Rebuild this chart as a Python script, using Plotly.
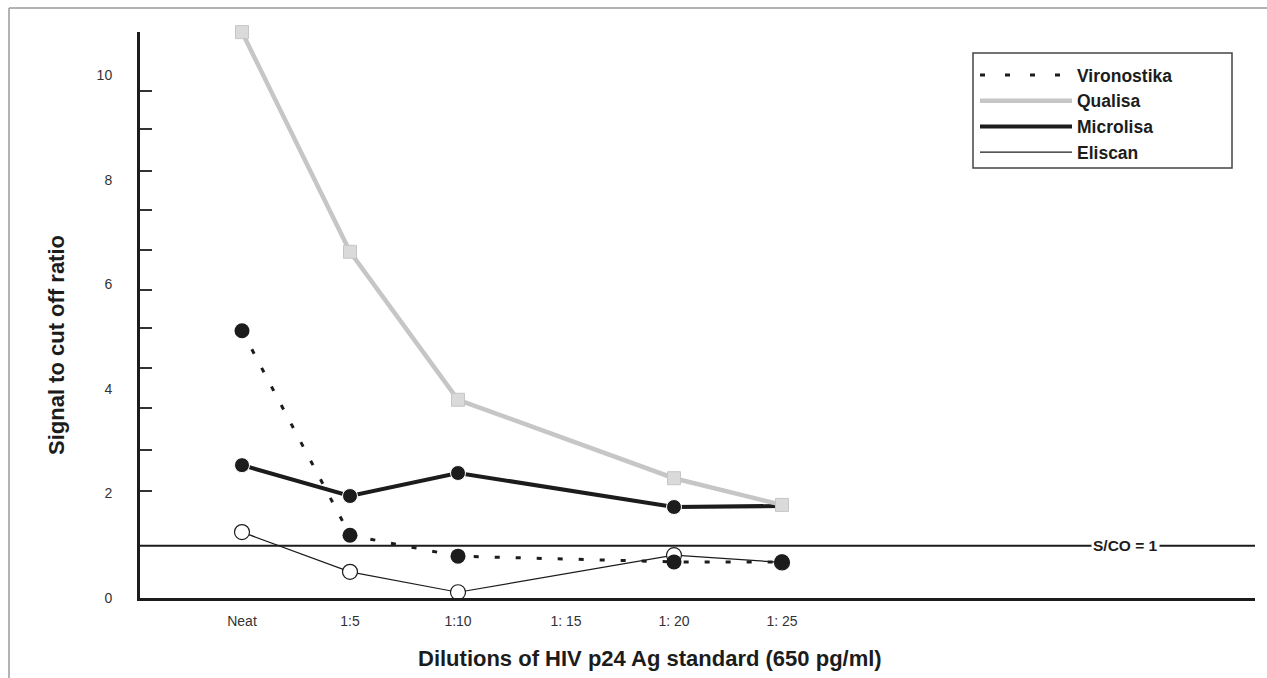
import plotly.graph_objects as go

# ---- data ----
dilutions = ["Neat", "1:5", "1:10", "1: 15", "1: 20", "1: 25"]
x_pos = [0, 1, 2, 3, 4, 5]

vironostika_x = [0, 1, 2, 4, 5]
vironostika = [5.11, 1.20, 0.80, 0.69, 0.69]

qualisa_x = [0, 1, 2, 4, 5]
qualisa = [10.82, 6.62, 3.79, 2.29, 1.78]

microlisa_x = [0, 1, 2, 4, 5]
microlisa = [2.54, 1.95, 2.39, 1.74, 1.76]

eliscan_x = [0, 1, 2, 4, 5]
eliscan = [1.26, 0.50, 0.11, 0.82, 0.68]

cutoff = 1.0
y_ticks = [0, 2, 4, 6, 8, 10]
y_ticktext = ["0", "2", "4", "6", "8", "10"]
y_minor_ticks = [2.05, 2.83, 3.63, 4.40, 5.16, 5.89, 6.65, 7.42, 8.16, 8.97, 9.69]

FONT = "Arial, Liberation Sans, sans-serif"
BLACK = "#1c1c1c"
GRAY_LINE = "#c6c6c6"
GRAY_MARK = "#dadada"

PX_L, PX_R, PX_T, PX_B = 140, 1255, 32, 598
PW, PH = PX_R - PX_L, PX_B - PX_T


def px_x(px):
    return (px - PX_L) / PW


def px_y(py):
    return (PX_B - py) / PH


fig = go.Figure()

# data traces (no legend)
fig.add_trace(go.Scatter(
    x=eliscan_x, y=eliscan, mode="lines+markers", showlegend=False,
    line=dict(color=BLACK, width=1.2),
    marker=dict(symbol="circle", size=15, color="white", opacity=1,
                line=dict(color=BLACK, width=1.2)),
    cliponaxis=False))
fig.add_trace(go.Scatter(
    x=vironostika_x, y=vironostika, mode="lines+markers", showlegend=False,
    line=dict(color=BLACK, width=3, dash="5px,16px"),
    marker=dict(symbol="circle", size=15, color=BLACK, opacity=1),
    cliponaxis=False))
fig.add_trace(go.Scatter(
    x=microlisa_x, y=microlisa, mode="lines+markers", showlegend=False,
    line=dict(color=BLACK, width=4),
    marker=dict(symbol="circle", size=[15, 15, 15, 15, 0], color=BLACK, opacity=1),
    cliponaxis=False))
fig.add_trace(go.Scatter(
    x=qualisa_x, y=qualisa, mode="lines+markers", showlegend=False,
    line=dict(color=GRAY_LINE, width=4.5),
    marker=dict(symbol="square", size=13, color=GRAY_MARK, opacity=1,
                line=dict(color=GRAY_LINE, width=1)),
    cliponaxis=False))

# legend-only traces
legend_specs = [
    ("Vironostika", dict(color=BLACK, width=3, dash="5px,20px")),
    ("Qualisa", dict(color=GRAY_LINE, width=4.5)),
    ("Microlisa", dict(color=BLACK, width=4)),
    ("Eliscan", dict(color=BLACK, width=1.2)),
]
for name, ln in legend_specs:
    fig.add_trace(go.Scatter(x=[None], y=[None], mode="lines", name=name, line=ln,
                             legendgroup=name))

# legend frame
fig.add_shape(type="rect", xref="paper", yref="paper",
              x0=px_x(973), x1=px_x(1232), y0=px_y(168), y1=px_y(53),
              line=dict(color="#444444", width=1.5), fillcolor="white", layer="below")

# cut-off line
fig.add_shape(type="line", xref="paper", yref="y", x0=0, x1=1, y0=cutoff, y1=cutoff,
              line=dict(color=BLACK, width=2))
fig.add_annotation(x=px_x(1125), xref="paper", xanchor="center", y=cutoff, yref="y",
                   yanchor="middle",
                   text="<b>S/CO = 1</b>", showarrow=False, bgcolor="white",
                   font=dict(family=FONT, size=15.5, color=BLACK), borderpad=1)

# page border (scan frame)
fig.add_shape(type="line", xref="paper", yref="paper",
              x0=px_x(9), x1=px_x(9), y0=px_y(8), y1=px_y(682),
              line=dict(color="#9a9a9a", width=1.5))
fig.add_shape(type="line", xref="paper", yref="paper",
              x0=px_x(9), x1=px_x(1272), y0=px_y(8), y1=px_y(8),
              line=dict(color="#9a9a9a", width=1.5))

# axis titles
fig.add_annotation(x=px_x(650), xref="paper", xanchor="center", y=px_y(658), yref="paper",
                   text="<b>Dilutions of HIV p24 Ag standard (650 pg/ml)</b>", showarrow=False,
                   font=dict(family=FONT, size=22, color=BLACK), yanchor="middle")
fig.add_annotation(x=px_x(57), xref="paper", y=px_y(345), yref="paper",
                   text="<b>Signal to cut off ratio</b>", showarrow=False, textangle=-90,
                   font=dict(family=FONT, size=22, color=BLACK), xanchor="center",
                   yanchor="middle")

fig.update_layout(
    width=1267, height=678,
    margin=dict(l=PX_L, r=1267 - PX_R, t=PX_T, b=678 - PX_B),
    paper_bgcolor="white", plot_bgcolor="white",
    font=dict(family=FONT, color="#333333"),
    legend=dict(x=px_x(975), y=px_y(57), xanchor="left", yanchor="top",
                borderwidth=0, bgcolor="rgba(0,0,0,0)",
                font=dict(family=FONT, size=17.5, color=BLACK, weight="bold"),
                itemwidth=92, tracegroupgap=0),
    xaxis=dict(range=[-(242 - PX_L) / 108, (PX_R - 242) / 108],
               tickvals=x_pos, ticktext=dilutions, showgrid=False, zeroline=False,
               showline=True, linecolor=BLACK, linewidth=2.5, ticks="",
               tickfont=dict(family=FONT, size=14, color="#333333"),
               ticklabelstandoff=8),
    yaxis=dict(range=[0, PH / 52.3], tickvals=y_ticks, ticktext=y_ticktext,
               showgrid=False, zeroline=False, showline=True, linecolor=BLACK,
               linewidth=3, ticks="",
               minor=dict(tickvals=y_minor_ticks, ticks="inside", ticklen=12,
                          tickwidth=2, tickcolor="#333333"),
               tickfont=dict(family=FONT, size=14, color="#333333"),
               ticklabelstandoff=22),
)

fig.write_html("out.html")
